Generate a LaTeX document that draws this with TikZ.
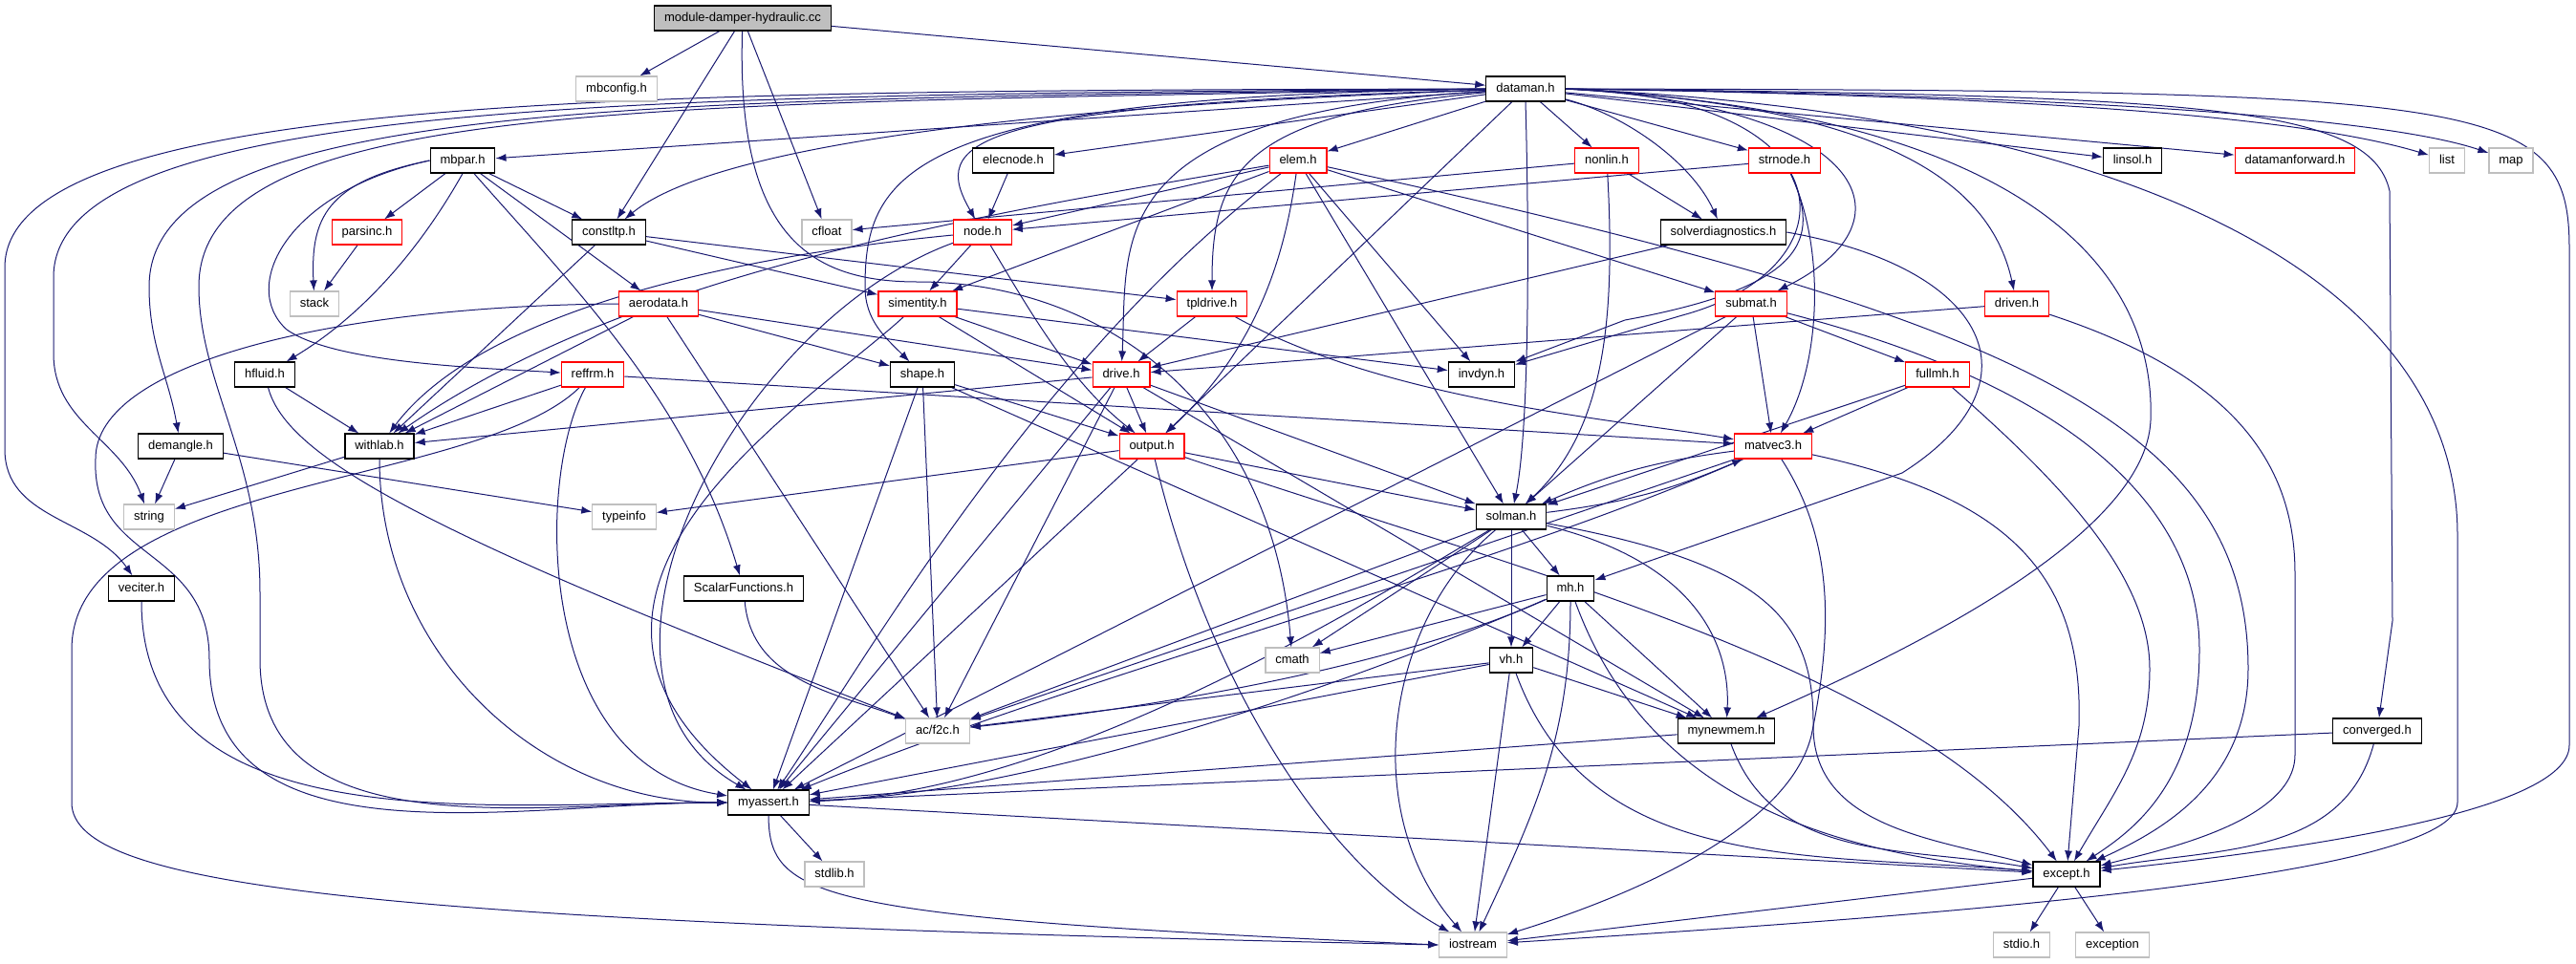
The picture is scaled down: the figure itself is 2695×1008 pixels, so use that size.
\documentclass[tikz,border=0pt]{standalone}
\usepackage{fontspec}
\setmainfont{Liberation Sans}
\usepackage{tikz}
\definecolor{edgeblue}{RGB}{25,25,112}
\definecolor{sysgray}{RGB}{191,191,191}
\tikzset{
    hdr/.style={draw=black, rectangle, fill=white, line width=0.6pt, minimum height=13pt, inner xsep=5.2pt, inner ysep=0pt, text height=4.9pt, text depth=1.3pt, font=\fontsize{6.5}{7.5}\selectfont, anchor=center},
    trunc/.style={hdr, draw=red},
    sys/.style={hdr, draw=sysgray},
    cur/.style={hdr, fill=sysgray},
    dep/.style={draw=edgeblue, line width=0.5pt, -{Latex[length=5.5pt,width=4pt]}} }
\usetikzlibrary{arrows.meta, backgrounds}

\begin{document}
\begin{tikzpicture}[x=0.5pt, y=-0.5pt]
			\useasboundingbox (0,0) rectangle (2695,1008);
			\node[cur] (root) at (777,19) {module-damper-hydraulic.cc};
			\node[sys] (mbconf) at (645,93) {mbconfig.h};
			\node[hdr] (dataman) at (1596,93) {dataman.h};
			\node[hdr] (mbpar) at (484,168) {mbpar.h};
			\node[hdr] (elecnode) at (1060,168) {elecnode.h};
			\node[trunc] (elem) at (1358,168) {elem.h};
			\node[trunc] (nonlin) at (1681,168) {nonlin.h};
			\node[trunc] (strnode) at (1867,168) {strnode.h};
			\node[hdr] (linsol) at (2231,168) {linsol.h};
			\node[trunc] (dmfwd) at (2401,168) {datamanforward.h};
			\node[sys] (list) at (2560,168) {list};
			\node[sys] (map) at (2627,168) {map};
			\node[trunc] (parsinc) at (384,243) {parsinc.h};
			\node[hdr] (constltp) at (637,243) {constltp.h};
			\node[sys] (cfloat) at (865,243) {cfloat};
			\node[trunc] (nodeh) at (1028,243) {node.h};
			\node[hdr] (solvdiag) at (1803,243) {solverdiagnostics.h};
			\node[sys] (stack) at (329,318) {stack};
			\node[trunc] (aerodata) at (689,318) {aerodata.h};
			\node[trunc] (simentity) at (960,318) {simentity.h};
			\node[trunc] (tpldrive) at (1268,318) {tpldrive.h};
			\node[trunc] (submat) at (1832,318) {submat.h};
			\node[trunc] (driven) at (2110,318) {driven.h};
			\node[hdr] (hfluid) at (277,392) {hfluid.h};
			\node[trunc] (reffrm) at (620,392) {reffrm.h};
			\node[hdr] (shape) at (965,392) {shape.h};
			\node[trunc] (drive) at (1173,392) {drive.h};
			\node[hdr] (invdyn) at (1550,392) {invdyn.h};
			\node[trunc] (fullmh) at (2027,392) {fullmh.h};
			\node[hdr] (demangle) at (189,467) {demangle.h};
			\node[hdr] (withlab) at (397,467) {withlab.h};
			\node[trunc] (output) at (1205,467) {output.h};
			\node[trunc] (matvec3) at (1855,467) {matvec3.h};
			\node[sys] (string) at (156,541) {string};
			\node[sys] (typeinfo) at (653,541) {typeinfo};
			\node[hdr] (solman) at (1581,541) {solman.h};
			\node[hdr] (veciter) at (148,616) {veciter.h};
			\node[hdr] (scalarf) at (778,616) {ScalarFunctions.h};
			\node[hdr] (mh) at (1643,616) {mh.h};
			\node[sys] (cmath) at (1352,691) {cmath};
			\node[hdr] (vh) at (1581,691) {vh.h};
			\node[sys] (acf2c) at (981,765) {ac/f2c.h};
			\node[hdr] (mynewmem) at (1806,765) {mynewmem.h};
			\node[hdr] (converged) at (2487,765) {converged.h};
			\node[hdr] (myassert) at (804,840) {myassert.h};
			\node[sys] (stdlib) at (873,915) {stdlib.h};
			\node[hdr] (except) at (2162,915) {except.h};
			\node[sys] (iostream) at (1541,989) {iostream};
			\node[sys] (stdio) at (2115,989) {stdio.h};
			\node[sys] (exception) at (2210,989) {exception};
			% ----
			\begin{pgfonlayer}{background}
			\draw[dep] (root) -- (mbconf);
			\draw[dep] (root) -- (dataman);
			\draw[dep] (root) -- (constltp);
			\draw[dep] (root) -- (cfloat);
			\draw[dep] (root) .. controls (770,250) and (850,295) .. (960,295) .. controls (1150,295) and (1330,420) .. (cmath);

			\draw[dep] (dataman) -- (mbpar);
			\draw[dep] (dataman) .. controls (1100,110) and (750,150) .. (constltp);
			\draw[dep] (dataman) -- (elecnode);
			\draw[dep] (dataman) .. controls (1000,110) and (975,150) .. (nodeh);
			\draw[dep] (dataman) -- (elem);
			\draw[dep] (dataman) -- (nonlin);
			\draw[dep] (dataman) -- (strnode);
			\draw[dep] (dataman) -- (linsol);
			\draw[dep] (dataman) -- (dmfwd);
			\draw[dep] (dataman.east) .. controls (2100,100) and (2400,120) .. (list);
			\draw[dep] (dataman.east) .. controls (2200,100) and (2500,125) .. (map);
			\draw[dep] (dataman) .. controls (1700,120) and (1770,170) .. (solvdiag);
			\draw[dep] (dataman) .. controls (1300,120) and (1268,180) .. (tpldrive);
			\draw[dep] (dataman) .. controls (1150,120) and (1180,250) .. (drive);
			\draw[dep] (dataman) .. controls (950,100) and (905,180) .. (905,300) to[out=-90,in=135] (shape);
			\draw[dep] (dataman) -- (output);
			\draw[dep] (dataman.south) .. controls (1600,250) and (1600,450) .. (solman);
			\draw[dep] (dataman.east) .. controls (1935,100) and (1945,280) .. (1760,330) -- (invdyn);
			\draw[dep] (dataman.east) .. controls (1950,110) and (2010,230) .. (submat);
			\draw[dep] (dataman.east) .. controls (1950,110) and (2080,180) .. (driven);
			\draw[dep] (dataman.east) .. controls (2150,120) and (2255,300) .. (2250,440) .. controls (2245,560) and (2000,680) .. (mynewmem);
			\draw[dep] (dataman.east) .. controls (2300,100) and (2480,110) .. (2500,200) -- (2503,650) -- (converged);
			\draw[dep] (dataman.east) .. controls (2600,95) and (2688,100) .. (2688,260) -- (2688,780) .. controls (2688,850) and (2400,890) .. (except);
			\draw[dep] (dataman.east) .. controls (2250,120) and (2571,300) .. (2571,560) -- (2571,840) .. controls (2571,920) and (2000,960) .. (iostream);
			\draw[dep] (dataman.west) .. controls (700,95) and (5,95) .. (5,280) -- (5,470) to[out=-90,in=125] (veciter);
			\draw[dep] (dataman.west) .. controls (700,100) and (56,100) .. (56,290) -- (56,370) to[out=-90,in=110] (string);
			\draw[dep] (dataman.west) .. controls (700,105) and (156,100) .. (156,300) to[out=-90,in=100] (demangle);
			\draw[dep] (dataman.west) .. controls (700,110) and (208,100) .. (208,300) .. controls (208,400) and (272,480) .. (272,620) -- (272,690) to[out=-90,in=180] (myassert);

			\draw[dep] (mbpar) -- (parsinc);
			\draw[dep] (mbpar.west) .. controls (340,190) and (325,230) .. (stack);
			\draw[dep] (mbpar) -- (constltp);
			\draw[dep] (mbpar) -- (aerodata);
			\draw[dep] (mbpar.south) .. controls (440,260) and (380,330) .. (hfluid);
			\draw[dep] (mbpar.west) .. controls (300,200) and (250,300) .. (300,345) .. controls (350,380) and (500,385) .. (reffrm);
			\draw[dep] (mbpar) .. controls (600,300) and (720,420) .. (scalarf);
			\draw[dep] (parsinc) -- (stack);

			\draw[dep] (constltp) -- (simentity);
			\draw[dep] (constltp) -- (tpldrive);
			\draw[dep] (constltp) -- (withlab);
			\draw[dep] (elecnode) -- (nodeh);

			\draw[dep] (nodeh) -- (simentity);
			\draw[dep] (nodeh) .. controls (1080,330) and (1120,400) .. (output);
			\draw[dep] (nodeh) .. controls (750,270) and (500,330) .. (withlab);
			\draw[dep] (nodeh) to[out=-160,in=150] (myassert);

			\draw[dep] (elem) -- (nodeh);
			\draw[dep] (elem) -- (simentity);
			\draw[dep] (elem) .. controls (1000,228) and (650,290) .. (withlab);
			\draw[dep] (elem) .. controls (1345,260) and (1320,360) .. (output);
			\draw[dep] (elem) -- (solman);
			\draw[dep] (elem) -- (invdyn);
			\draw[dep] (elem) -- (submat);
			\draw[dep] (elem) .. controls (2100,330) and (2352,440) .. (2352,700) .. controls (2352,820) and (2260,870) .. (except);
			\draw[dep] (elem) .. controls (1080,380) and (900,700) .. (myassert);

			\draw[dep] (nonlin) -- (cfloat);
			\draw[dep] (nonlin) -- (solvdiag);
			\draw[dep] (nonlin) .. controls (1690,330) and (1680,450) .. (solman);
			\draw[dep] (strnode) -- (nodeh);
			\draw[dep] (strnode) .. controls (1905,250) and (1890,300) .. (1700,335) -- (invdyn);
			\draw[dep] (strnode) .. controls (1910,260) and (1905,380) .. (matvec3);
			\draw[dep] (solvdiag) -- (drive);
			\draw[dep] (solvdiag.east) .. controls (2080,280) and (2140,400) .. (1990,495) -- (mh);

			\draw[dep] (aerodata) -- (shape);
			\draw[dep] (aerodata) -- (drive);
			\draw[dep] (aerodata) -- (acf2c);
			\draw[dep] (aerodata) -- (withlab);
			\draw[dep] (aerodata.west) .. controls (350,320) and (100,380) .. (100,480) .. controls (95,590) and (219,570) .. (219,690) to[out=-90,in=180] (myassert);

			\draw[dep] (simentity) -- (drive);
			\draw[dep] (simentity) -- (output);
			\draw[dep] (simentity) -- (invdyn);
			\draw[dep] (simentity) .. controls (850,420) and (520,620) .. (myassert);
			\draw[dep] (tpldrive) -- (drive);
			\draw[dep] (tpldrive) .. controls (1450,420) and (1700,440) .. (matvec3);

			\draw[dep] (submat) -- (fullmh);
			\draw[dep] (submat) -- (matvec3);
			\draw[dep] (submat) -- (solman);
			\draw[dep] (submat) .. controls (2150,400) and (2301,520) .. (2301,680) .. controls (2301,820) and (2230,870) .. (except);
			\draw[dep] (submat) -- (myassert);
			\draw[dep] (driven) -- (drive);
			\draw[dep] (driven) .. controls (2330,390) and (2401,480) .. (2401,600) -- (2401,790) .. controls (2401,860) and (2260,890) .. (except);

			\draw[dep] (hfluid) -- (withlab);
			\draw[dep] (hfluid) .. controls (300,480) and (450,560) .. (acf2c);
			\draw[dep] (reffrm) -- (withlab);
			\draw[dep] (reffrm) -- (matvec3);
			\draw[dep] (reffrm) .. controls (500,510) and (75,500) .. (75,680) -- (75,840) .. controls (75,930) and (400,965) .. (iostream.west);
			\draw[dep] (reffrm) .. controls (560,500) and (560,800) .. (myassert);

			\draw[dep] (shape) -- (output);
			\draw[dep] (shape) -- (acf2c);
			\draw[dep] (shape) -- (mynewmem);
			\draw[dep] (shape) -- (myassert);
			\draw[dep] (drive) -- (output);
			\draw[dep] (drive) -- (withlab);
			\draw[dep] (drive) -- (solman);
			\draw[dep] (drive) -- (acf2c);
			\draw[dep] (drive) -- (mynewmem);
			\draw[dep] (drive) -- (myassert);

			\draw[dep] (fullmh) -- (matvec3);
			\draw[dep] (fullmh) -- (solman);
			\draw[dep] (fullmh) .. controls (2150,500) and (2249,600) .. (2249,700) to[out=-90,in=60] (except);
			\draw[dep] (demangle) -- (string);
			\draw[dep] (demangle) -- (typeinfo);
			\draw[dep] (withlab) -- (string);
			\draw[dep] (withlab) to[out=-90,in=180] (myassert);

			\draw[dep] (output) -- (typeinfo);
			\draw[dep] (output) -- (solman);
			\draw[dep] (output) -- (myassert);
			\draw[dep] (output) .. controls (1260,700) and (1380,900) .. (iostream);
			\draw[dep] (output) .. controls (1600,600) and (2000,700) .. (except);

			\draw[dep] (matvec3) to[bend right=8] (solman);
			\draw[dep] (matvec3) -- (acf2c);
			\draw[dep] (matvec3) .. controls (1550,600) and (1150,700) .. (myassert);
			\draw[dep] (matvec3) .. controls (1915,560) and (1920,650) .. (1895,770) .. controls (1870,870) and (1700,940) .. (iostream);
			\draw[dep] (matvec3) .. controls (2100,520) and (2180,600) .. (2175,760) -- (except);

			\draw[dep] (solman) to[bend right=8] (matvec3);
			\draw[dep] (solman) -- (mh);
			\draw[dep] (solman) -- (vh);
			\draw[dep] (solman) -- (cmath);
			\draw[dep] (solman) -- (acf2c);
			\draw[dep] (solman) .. controls (1780,590) and (1810,680) .. (mynewmem);
			\draw[dep] (solman) .. controls (1400,650) and (1100,830) .. (myassert);
			\draw[dep] (solman) .. controls (1450,650) and (1420,850) .. (iostream);
			\draw[dep] (solman) .. controls (1850,590) and (1898,650) .. (1897,760) to[out=-90,in=165] (except);

			\draw[dep] (mh) -- (cmath);
			\draw[dep] (mh) -- (vh);
			\draw[dep] (mh) .. controls (1500,680) and (1300,730) .. (acf2c);
			\draw[dep] (mh) -- (mynewmem);
			\draw[dep] (mh) .. controls (1450,700) and (1100,830) .. (myassert);
			\draw[dep] (mh) to[out=-70,in=175] (except);
			\draw[dep] (mh) to[out=-90,in=65] (iostream);

			\draw[dep] (vh) -- (acf2c);
			\draw[dep] (vh) -- (mynewmem);
			\draw[dep] (vh) -- (myassert);
			\draw[dep] (vh) -- (iostream);
			\draw[dep] (vh) to[out=-70,in=175] (except);

			\draw[dep] (mynewmem) -- (myassert);
			\draw[dep] (mynewmem) to[out=-70,in=170] (except);
			\draw[dep] (converged) -- (myassert);
			\draw[dep] (converged) to[out=-105,in=10] (except);
			\draw[dep] (veciter) to[out=-90,in=180] (myassert);
			\draw[dep] (scalarf) to[out=-85,in=160] (acf2c);

			\draw[dep] (myassert) -- (stdlib);
			\draw[dep] (myassert.south) .. controls (805,940) and (850,960) .. (iostream.west);
			\draw[dep] (myassert) -- (except);
			\draw[dep] (except) -- (stdio);
			\draw[dep] (except) -- (exception);
			\draw[dep] (except) -- (iostream);
			\end{pgfonlayer}
		\end{tikzpicture}
\end{document}
